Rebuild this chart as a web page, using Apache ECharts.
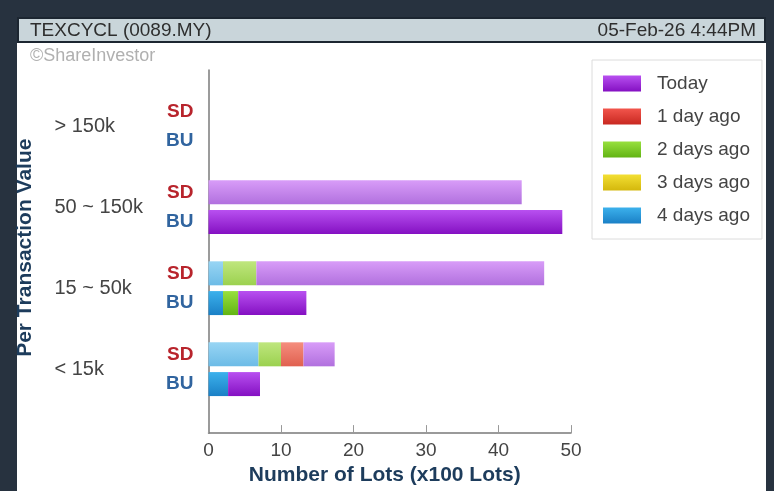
<!DOCTYPE html>
<html>
<head>
<meta charset="utf-8">
<script src="https://cdn.jsdelivr.net/npm/echarts@6/dist/echarts.min.js"></script>
<style>
  html, body {margin: 0; padding: 0; background: #27323f;}
  #chart {width: 774px; height: 491px;}
</style>
</head>
<body>
<div id="chart"></div>
<script>
const categories = ['> 150k', '50 ~ 150k', '15 ~ 50k', '< 15k'];
const sides = ['SD', 'BU'];
const days = ['4 days ago', '3 days ago', '2 days ago', '1 day ago', 'Today'];
const legendOrder = ['Today', '1 day ago', '2 days ago', '3 days ago', '4 days ago'];
const xTicks = [0, 10, 20, 30, 40, 50];

// lots (x100) per category, one array per day
const sdValues = {
  '4 days ago': [0, 0, 2.0, 6.9],
  '3 days ago': [0, 0, 0, 0],
  '2 days ago': [0, 0, 4.6, 3.1],
  '1 day ago': [0, 0, 0, 3.1],
  'Today': [0, 43.2, 39.7, 4.3]
};
const buValues = {
  '4 days ago': [0, 0, 2.0, 2.7],
  '3 days ago': [0, 0, 0, 0],
  '2 days ago': [0, 0, 2.1, 0],
  '1 day ago': [0, 0, 0, 0],
  'Today': [0, 48.8, 9.4, 4.4]
};

const grad = (a, b) => new echarts.graphic.LinearGradient(0, 0, 0, 1, [
  {offset: 0, color: a}, {offset: 1, color: b}
]);
const sdColors = {
  'Today': grad('#d89cf8', '#b170de'),
  '1 day ago': grad('#f58e7e', '#e0604f'),
  '2 days ago': grad('#bfe67e', '#9bd14f'),
  '3 days ago': grad('#f4e57c', '#e2cf45'),
  '4 days ago': grad('#98d5f4', '#6cbbe6')
};
const buColors = {
  'Today': grad('#b850f0', '#8410c2'),
  '1 day ago': grad('#f2554c', '#c82820'),
  '2 days ago': grad('#98e03e', '#62b414'),
  '3 days ago': grad('#f3df34', '#d4b80c'),
  '4 days ago': grad('#3cb1ec', '#1a80c6')
};

const sideLabel = {
  SD: {color: '#b8242c'},
  BU: {color: '#30649f'}
};

const series = [];
sides.forEach(side => {
  const vals = side === 'SD' ? sdValues : buValues;
  const cols = side === 'SD' ? sdColors : buColors;
  days.forEach((d, i) => {
    series.push({
      name: d,
      type: 'bar',
      stack: side,
      xAxisIndex: 1,
      yAxisIndex: 1,
      barWidth: 24,
      barGap: '24%',
      data: vals[d],
      itemStyle: {color: cols[d]},
      label: i === 0 ? {
        show: true,
        position: 'left',
        distance: 15,
        formatter: side,
        fontFamily: 'Liberation Sans',
        fontWeight: 'bold',
        fontSize: 19,
        color: sideLabel[side].color
      } : {show: false},
      emphasis: {disabled: true}
    });
  });
});

const chart = echarts.init(document.getElementById('chart'));
chart.setOption({
  animation: false,
  backgroundColor: '#27323f',
  textStyle: {fontFamily: 'Liberation Sans'},
  graphic: [
    {type: 'rect', z: 0, shape: {x: 17, y: 17, width: 749, height: 480}, style: {fill: '#ffffff'}},
    {type: 'rect', z: 1, shape: {x: 18, y: 18, width: 747, height: 24}, style: {fill: '#c9d5da', stroke: '#1c2631', lineWidth: 2}}
  ],
  title: [
    {text: 'TEXCYCL (0089.MY)', left: 30, top: 21, padding: 0, textStyle: {fontSize: 19, fontWeight: 'normal', color: '#2e2e2e'}},
    {text: '05-Feb-26 4:44PM', right: 18, top: 21, padding: 0, textStyle: {fontSize: 19, fontWeight: 'normal', color: '#2e2e2e'}},
    {text: '©ShareInvestor', left: 30, top: 47, padding: 0, textStyle: {fontSize: 18, fontWeight: 'normal', color: '#b0b0b0'}}
  ],
  legend: {
    orient: 'vertical',
    left: 592,
    top: 60,
    padding: [14, 12, 14, 11],
    borderColor: '#dcdcdc',
    borderWidth: 1,
    itemWidth: 38,
    itemHeight: 16,
    itemGap: 14,
    icon: 'rect',
    selectedMode: false,
    textStyle: {fontSize: 19, color: '#444', padding: [0, 0, 0, 11]},
    data: legendOrder.map(n => ({name: n, itemStyle: {color: buColors[n]}}))
  },
  grid: [
    {left: 208.5, right: 203, top: 70, bottom: 52},
    {left: 208.5, right: 203, top: 85.7, bottom: 81.3}
  ],
  xAxis: [
    {
      type: 'value', gridIndex: 0, min: 0, max: 50, interval: 10,
      axisLine: {show: true, lineStyle: {color: '#7a7a7a', width: 1.5}},
      axisTick: {show: true, inside: true, length: 8, lineStyle: {color: '#999'}},
      axisLabel: {fontSize: 19, color: '#444', margin: 8, formatter: v => xTicks.includes(v) ? String(v) : ''},
      splitLine: {show: false},
      name: 'Number of Lots (x100 Lots)',
      nameLocation: 'middle',
      nameGap: 30,
      nameTextStyle: {fontSize: 21, fontWeight: 'bold', color: '#1d3c5c', padding: [0, 10, 0, 0]}
    },
    {
      type: 'value', gridIndex: 1, min: 0, max: 50,
      show: false
    }
  ],
  yAxis: [
    {
      type: 'value', gridIndex: 0, min: 0, max: 1,
      axisLine: {show: true, lineStyle: {color: '#7a7a7a', width: 1.5}},
      axisTick: {show: false},
      axisLabel: {show: false},
      splitLine: {show: false}
    },
    {
      type: 'category', gridIndex: 1, inverse: true,
      data: categories,
      axisLine: {show: false},
      axisTick: {show: false},
      axisLabel: {align: 'left', margin: 154, fontSize: 20, color: '#444'},
      name: 'Per Transaction Value',
      nameLocation: 'middle',
      nameRotate: 90,
      nameGap: 173,
      nameTextStyle: {fontSize: 21, fontWeight: 'bold', color: '#1d3c5c'}
    }
  ],
  series: series
});
</script>
</body>
</html>
